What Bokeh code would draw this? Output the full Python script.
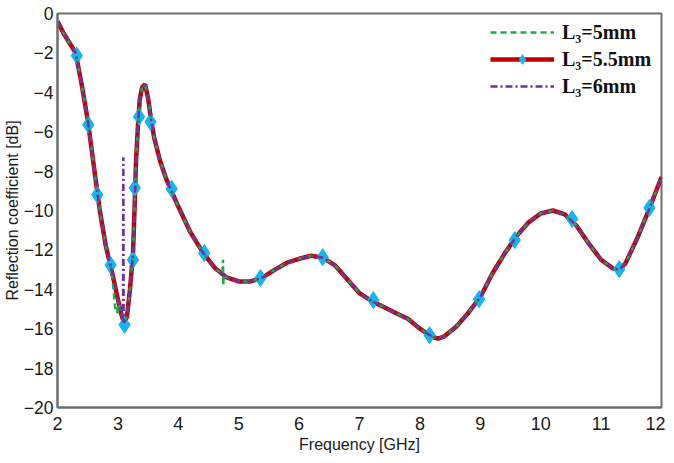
from bokeh.plotting import figure
from bokeh.embed import file_html
from bokeh.resources import INLINE
from bokeh.models import FixedTicker, Range1d, Legend, LegendItem

# Base curve (L3 = 5.5 mm)
freq = [2.0, 2.05, 2.1, 2.2, 2.3, 2.4, 2.5, 2.6, 2.7, 2.8, 2.9, 3.0, 3.05, 3.1, 3.15,
        3.2, 3.25, 3.28, 3.3, 3.33, 3.36, 3.4, 3.45, 3.5, 3.55, 3.6, 3.7, 3.8, 3.9,
        4.0, 4.2, 4.4, 4.6, 4.8, 5.0, 5.2, 5.4, 5.6, 5.8, 6.0, 6.2, 6.4, 6.6, 6.8,
        7.0, 7.2, 7.4, 7.6, 7.8, 8.0, 8.2, 8.3, 8.4, 8.6, 8.8, 9.0, 9.2, 9.4, 9.6,
        9.8, 10.0, 10.2, 10.4, 10.6, 10.8, 11.0, 11.2, 11.3, 11.4, 11.6, 11.8, 12.0]
s11_55 = [-0.4, -0.7, -1.0, -1.5, -2.0, -3.6, -5.4, -7.7, -10.0, -11.8, -13.1, -14.5, -15.2, -15.7, -15.4,
          -14.0, -12.2, -9.5, -7.5, -5.8, -4.4, -3.75, -3.6, -4.3, -5.4, -6.3, -7.5, -8.4, -9.1,
          -9.8, -11.1, -12.1, -12.9, -13.4, -13.6, -13.6, -13.4, -13.0, -12.65, -12.45, -12.3, -12.4, -12.8, -13.5,
          -14.2, -14.6, -14.9, -15.2, -15.5, -16.0, -16.4, -16.5, -16.4, -15.9, -15.2, -14.4, -13.2, -12.2, -11.3,
          -10.6, -10.15, -10.0, -10.2, -10.8, -11.7, -12.5, -12.95, -13.0, -12.7, -11.4, -9.9, -8.3]

# Deviations of the other two curves from the base curve
extra_5 = [(2.96, -15.1), (2.99, -15.2), (4.73, -13.25), (4.74, -12.5), (4.745, -13.8), (4.75, -13.3)]
extra_6 = [(3.085, -15.5), (3.09, -7.3), (3.095, -15.6)]

# Marker positions on the L3 = 5.5 mm curve
mk_freq = [2.32, 2.51, 2.66, 2.88, 3.11, 3.25, 3.28, 3.35, 3.54, 3.89, 4.43, 5.36, 6.39,
           7.23, 8.16, 8.98, 9.57, 10.52, 11.30, 11.8]
mk_s11 = [-2.14, -5.65, -9.2, -12.77, -15.8, -12.5, -8.85, -5.24, -5.5, -8.9, -12.16, -13.43, -12.37,
          -14.55, -16.33, -14.5, -11.5, -10.43, -12.98, -9.87]

x_ticks = [2, 3, 4, 5, 6, 7, 8, 9, 10, 11, 12]
y_ticks = [0, -2, -4, -6, -8, -10, -12, -14, -16, -18, -20]


def merged(extra):
    pts = sorted(list(zip(freq, s11_55)) + list(extra))
    return [p[0] for p in pts], [p[1] for p in pts]


f5, s5 = merged(extra_5)
f6, s6 = merged(extra_6)

FONT = "Liberation Sans"

p = figure(output_backend="svg", toolbar_location=None,
           x_range=Range1d(2, 12), y_range=Range1d(-20, 0),
           height=447, frame_width=604, frame_height=394,
           title=" ",
           min_border_left=0, min_border_right=4, min_border_top=0, min_border_bottom=0)
p.title.text_font_size = "10px"
p.title.standoff = 0
p.title.offset = 0

r_red = p.line(freq, s11_55, line_color="#c00000", line_width=4.5)
r_mk = p.scatter(mk_freq, mk_s11, marker="diamond", size=17, fill_color="#17b4f0",
                 line_color="#17b4f0")
r_green = p.line(f5, s5, line_color="#1faa50", line_width=2.5, line_dash="6 4")
r_purple = p.line(f6, s6, line_color="#7030a0", line_width=2.5, line_dash="7 3 2 3")

p.xgrid.visible = False
p.ygrid.visible = False
p.outline_line_color = "#6e6e6e"
p.outline_line_width = 2

for ax in (p.xaxis[0], p.yaxis[0]):
    ax.axis_line_color = "#6e6e6e"
    ax.axis_line_width = 2
    ax.major_tick_line_color = None
    ax.minor_tick_line_color = None
    ax.major_tick_in = 0
    ax.major_tick_out = 0
    ax.major_label_text_font = FONT
    ax.major_label_text_font_size = "18px"
    ax.major_label_text_color = "#1a1a1a"
    ax.axis_label_text_font = FONT
    ax.axis_label_text_font_size = "16px"
    ax.axis_label_text_font_style = "normal"
    ax.axis_label_text_color = "#1a1a1a"

p.yaxis.major_label_text_font_size = "17.5px"
p.xaxis.ticker = FixedTicker(ticks=x_ticks)
p.yaxis.ticker = FixedTicker(ticks=y_ticks)
p.xaxis.axis_label = "Frequency [GHz]"
p.yaxis.axis_label = "Reflection coefficient [dB]"
p.xaxis.axis_label_standoff = 3
p.yaxis.axis_label_standoff = 0
p.xaxis.major_label_standoff = 9
p.yaxis.major_label_standoff = 4

legend = Legend(items=[
    LegendItem(label="L\u2083=5mm", renderers=[r_green]),
    LegendItem(label="L\u2083=5.5mm", renderers=[r_red, r_mk]),
    LegendItem(label="L\u2083=6mm", renderers=[r_purple]),
], location="top_right")
legend.label_text_font = "Liberation Serif"
legend.label_text_font_style = "bold"
legend.label_text_font_size = "20px"
legend.label_text_color = "#111111"
legend.glyph_width = 64
legend.glyph_height = 24
legend.label_width = 92
legend.spacing = 3
legend.padding = 5
legend.margin = 2
legend.label_standoff = 8
legend.border_line_alpha = 0
legend.background_fill_alpha = 0
p.add_layout(legend)

open("out.html", "w").write(file_html(p, INLINE))
